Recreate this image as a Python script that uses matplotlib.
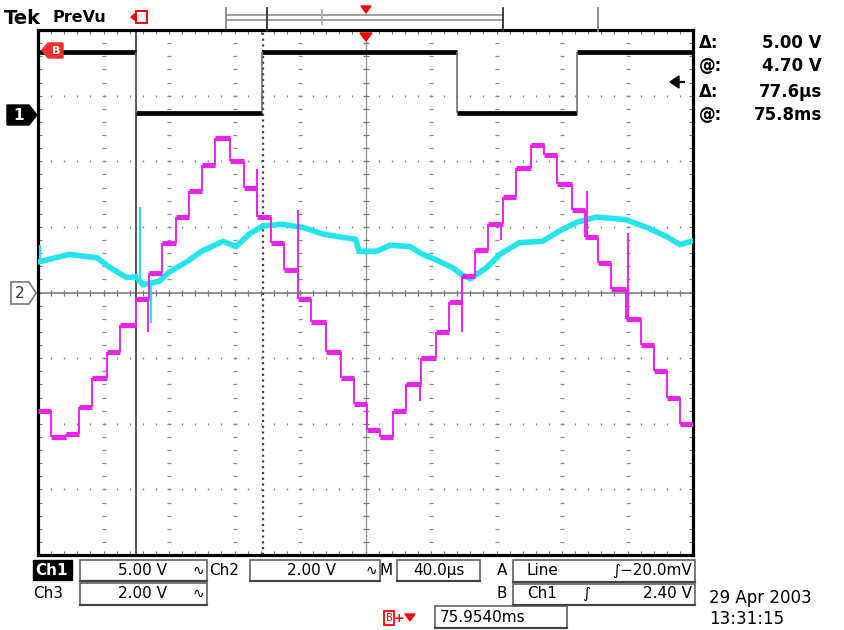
"""
Tek PreVu scope screen: Ch1 gate signal, Ch2 and Ch3 analogue traces
Run: python plot.py
"""

import matplotlib.pyplot as plt
from matplotlib.patches import Rectangle, Polygon
import numpy as np

# ---- values (time in us from trigger, volts) ----
ch1_edges_us = [-200, -140.4, -63, 56, 129, 200]
ch1_levels_v = [4.7, 0.0, 4.7, 0.0, 4.7]

ch3_edges_us = [-200, -192, -183, -175, -167, -158, -150, -140, -132, -124,
                -116, -108, -100, -92, -83, -74, -66, -58, -50, -41,
                -33, -24, -15, -7, 1, 9, 17, 25, 34, 43,
                51, 59, 67, 75, 84, 92, 101, 109, 117, 126,
                134, 142, 150, 159, 168, 176, 184, 192, 200]
ch3_levels_v = [-3.6, -4.4, -4.3, -3.5, -2.6, -1.8, -1.0, -0.2, 0.6, 1.5,
                2.3, 3.1, 3.9, 4.7, 4.0, 3.2, 2.3, 1.5, 0.7, -0.2,
                -0.9, -1.8, -2.6, -3.4, -4.2, -4.4, -3.6, -2.8, -2.0, -1.2,
                -0.3, 0.5, 1.3, 2.1, 2.9, 3.8, 4.5, 4.2, 3.3, 2.5,
                1.7, 0.9, 0.1, -0.8, -1.6, -2.4, -3.2, -4.0]
ch3_spike_us = [-133, -66, -41, 33, 59, 83, 135, 160]
ch3_spike_v = [-1.2, 3.76, 2.5, -3.3, -1.2, 1.6, 3.1, 1.8]

ch2_t_us = [-199, -181, -164, -156, -146, -140, -136, -126, -120, -109,
            -100, -87, -79, -71, -63, -51, -38, -26, -14, -6,
            -4, 7, 15, 27, 35, 43, 53, 59, 64, 74,
            82, 94, 108, 118, 129, 141, 159, 172, 184, 192, 199]
ch2_v = [0.94, 1.16, 1.06, 0.76, 0.46, 0.48, 0.24, 0.34, 0.62, 0.94,
         1.26, 1.56, 1.40, 1.78, 2.02, 2.08, 1.98, 1.78, 1.68, 1.62,
         1.26, 1.26, 1.44, 1.40, 1.16, 1.00, 0.76, 0.54, 0.42, 0.76,
         1.16, 1.52, 1.56, 1.86, 2.14, 2.30, 2.22, 1.98, 1.70, 1.46, 1.56]
ch2_spike_us = [-199, -138, -131]
ch2_spike_v = [1.46, 2.6, -0.92]

cursor_us = [-140.4, -62.8]

# scope settings
US_PER_DIV = 40.0
CH1_V_DIV, CH2_V_DIV, CH3_V_DIV = 5.0, 2.0, 2.0
CH1_POS = 2.73          # ch1 ground marker, divisions above centre

MAGENTA = "#ee22ee"
CYAN = "#22e5ee"
GRID = "#8a8a8a"

fig = plt.figure(figsize=(8.44, 6.3), dpi=100)
fig.patch.set_facecolor("white")

# graticule: 10 x 8 divisions
ax = fig.add_axes([38 / 844, 75 / 630, 655 / 844, 525 / 630])
ax.set_xlim(-5 * US_PER_DIV, 5 * US_PER_DIV)
ax.set_ylim(-4, 4)
ax.set_facecolor("white")
for s in ax.spines.values():
    s.set_linewidth(2.3)
    s.set_color("black")
ax.set_xticks(np.arange(-200, 201, 8))
ax.set_yticks(np.arange(-4, 4.01, 0.2))
ax.tick_params(direction="in", length=3, width=0.8, color="#777",
               top=True, right=True, labelbottom=False, labelleft=False)

# dotted division lines
minor_x = np.arange(-200, 200.1, 8)
minor_y = np.arange(-4, 4.01, 0.2)
for gx in np.arange(-160, 161, 40):
    if gx == 0:
        continue
    ax.scatter(np.full_like(minor_y, gx), minor_y, marker="_", s=6,
               lw=0.9, color=GRID, zorder=1)
for gy in range(-3, 4):
    if gy == 0:
        continue
    ax.scatter(minor_x, np.full_like(minor_x, gy), marker="|", s=4,
               lw=0.9, color=GRID, zorder=1)

# centre cross with ticks
ax.axhline(0, color="#777", lw=1.1, zorder=1)
ax.axvline(0, color="#999", lw=1.0, zorder=1)
ax.scatter(minor_x, np.zeros_like(minor_x), marker="|", s=22, lw=0.9,
           color="#777", zorder=1)
ax.scatter(np.zeros_like(minor_y), minor_y, marker="_", s=22, lw=0.9,
           color="#777", zorder=1)

# time cursors
ax.axvline(cursor_us[0], color="#555", lw=1.4, zorder=2)
ax.axvline(cursor_us[1], color="#444", lw=1.6, ls=(0, (1, 1.6)), zorder=2)

# Ch1 square wave
e1 = np.array(ch1_edges_us)
l1 = np.array(ch1_levels_v) / CH1_V_DIV + CH1_POS
ax.hlines(l1, e1[:-1], e1[1:], color="black", lw=3.4, zorder=3)
ax.vlines(e1[1:-1], l1[:-1], l1[1:], color="#666", lw=1.1, zorder=3)

# Ch2 trace
t2 = np.array(ch2_t_us)
y2 = np.array(ch2_v) / CH2_V_DIV
ax.plot(t2, y2, color=CYAN, lw=4.0, solid_joinstyle="miter", zorder=4)
s2 = np.array(ch2_spike_us)
ax.vlines(s2, np.interp(s2, t2, y2), np.array(ch2_spike_v) / CH2_V_DIV,
          color=CYAN, lw=1.5, zorder=4)

# Ch3 stepped trace
e3 = np.array(ch3_edges_us)
l3 = np.array(ch3_levels_v) / CH3_V_DIV
ax.hlines(l3, e3[:-1], e3[1:], color=MAGENTA, lw=3.6, zorder=5)
ax.vlines(e3[1:-1], l3[:-1], l3[1:], color=MAGENTA, lw=1.4, zorder=5)
s3 = np.array(ch3_spike_us)
base3 = l3[np.clip(np.searchsorted(e3, s3, side="right") - 1, 0, len(l3) - 1)]
ax.vlines(s3, base3, np.array(ch3_spike_v) / CH3_V_DIV,
          color=MAGENTA, lw=1.4, zorder=5)

# ---- screen furniture in pixel coordinates ----
ov = fig.add_axes([0, 0, 1, 1], zorder=5)
ov.set_xlim(0, 844)
ov.set_ylim(630, 0)
ov.axis("off")
ov.patch.set_alpha(0)

FONT = "DejaVu Sans"

ov.text(4, 18, "Tek", fontsize=14, fontweight="bold", va="center",
        family=FONT)
ov.text(52, 17, "PreVu", fontsize=11.5, fontweight="bold", va="center",
        family=FONT)
ov.add_patch(Rectangle((136, 11), 11, 12, fc="white", ec="red", lw=1.4))
ov.add_patch(Polygon([[131, 17], [136, 13], [136, 21]], color="red"))

# record view bar
ov.plot([226, 503], [15, 15], color="#9a9a9a", lw=1.3)
ov.plot([226, 503], [20, 20], color="#9a9a9a", lw=1.3)
for bx, y0, y1, c in [(226, 8, 28, "#888"), (267, 8, 31, "#333"),
                      (322, 10, 24, "#aaa"), (503, 8, 31, "#333"),
                      (598, 8, 31, "#888")]:
    ov.plot([bx, bx], [y0, y1], color=c, lw=1.3)
ov.plot([0, 693], [31, 31], alpha=0)
ov.add_patch(Polygon([[361, 6], [371, 6], [366, 13]], color="red"))
ov.add_patch(Polygon([[360, 33], [372, 33], [366, 41]], color="red"))

# channel markers
ov.add_patch(Polygon([[42, 50], [48, 43], [63, 43], [63, 58], [48, 58]],
                     color="#f03030"))
ov.text(56, 50.5, "B", fontsize=8, color="white", ha="center", va="center",
        fontweight="bold", family=FONT)
ov.add_patch(Polygon([[7, 105], [29, 105], [37, 115], [29, 125], [7, 125]],
                     color="black"))
ov.text(19, 115.5, "1", fontsize=11, color="white", ha="center",
        va="center", fontweight="bold", family=FONT)
ov.add_patch(Polygon([[11, 282], [29, 282], [36, 293], [29, 304], [11, 304]],
                     fc="white", ec="#777", lw=1.2))
ov.text(20, 293.5, "2", fontsize=11, color="#333", ha="center",
        va="center", family=FONT)
ov.add_patch(Polygon([[670, 82], [679, 76], [679, 88]], color="black"))
ov.plot([678, 684], [82, 82], color="black", lw=1.5)

# cursor readouts
readouts = [("\u0394:", "5.00 V", 43), ("@:", "4.70 V", 66),
            ("\u0394:", "77.6\u00b5s", 92), ("@:", "75.8ms", 115)]
for lab, val, yy in readouts:
    ov.text(699, yy, lab, fontsize=12, fontweight="bold", va="center",
            family=FONT)
    ov.text(822, yy, val, fontsize=12, fontweight="bold", va="center",
            ha="right", family=FONT)

# bottom status line
def box(x0, y0, x1, y1):
    ov.add_patch(Rectangle((x0, y0), x1 - x0, y1 - y0, fc="none",
                           ec="#555", lw=1.1))
    ov.plot([x0, x1], [y1, y1], color="#444", lw=1.6)

ov.add_patch(Rectangle((33, 560), 39, 20, color="black"))
ov.text(52, 570.5, "Ch1", fontsize=11, color="white", ha="center",
        va="center", fontweight="bold", family=FONT)
box(80, 560, 207, 581)
ov.text(167, 570.5, "5.00 V", fontsize=11, ha="right", va="center",
        family=FONT)
ov.text(198, 570.5, "\u223f", fontsize=10, ha="center", va="center",
        family=FONT)
ov.text(209, 570.5, "Ch2", fontsize=11, va="center", family=FONT)
box(250, 560, 380, 581)
ov.text(336, 570.5, "2.00 V", fontsize=11, ha="right", va="center",
        family=FONT)
ov.text(371, 570.5, "\u223f", fontsize=10, ha="center", va="center",
        family=FONT)
ov.text(386, 570.5, "M", fontsize=11, ha="center", va="center",
        family=FONT)
box(397, 560, 480, 581)
ov.text(439, 570.5, "40.0\u00b5s", fontsize=11, ha="center", va="center",
        family=FONT)
ov.text(502, 570.5, "A", fontsize=11, ha="center", va="center",
        family=FONT)
box(513, 560, 695, 582)
ov.text(527, 570.5, "Line", fontsize=11, va="center", family=FONT)
ov.text(692, 570.5, "\u222b\u221220.0mV", fontsize=11, ha="right",
        va="center", family=FONT)

ov.text(33, 593.5, "Ch3", fontsize=11, va="center", family=FONT)
box(80, 583, 207, 605)
ov.text(167, 593.5, "2.00 V", fontsize=11, ha="right", va="center",
        family=FONT)
ov.text(198, 593.5, "\u223f", fontsize=10, ha="center", va="center",
        family=FONT)
ov.text(502, 593.5, "B", fontsize=11, ha="center", va="center",
        family=FONT)
box(513, 584, 695, 605)
ov.text(527, 593.5, "Ch1", fontsize=11, va="center", family=FONT)
ov.text(586, 593.5, "\u222b", fontsize=11, ha="center", va="center",
        family=FONT)
ov.text(692, 593.5, "2.40 V", fontsize=11, ha="right", va="center",
        family=FONT)

ov.add_patch(Rectangle((384, 611), 10, 14, fc="white", ec="red", lw=1.3))
ov.text(389, 618, "B", fontsize=7, color="red", ha="center", va="center",
        family=FONT)
ov.text(399, 618, "+", fontsize=9, color="red", ha="center", va="center",
        fontweight="bold", family=FONT)
ov.add_patch(Polygon([[405, 614], [415, 614], [410, 621]], color="red"))
box(435, 606, 567, 628)
ov.text(440, 617.5, "75.9540ms", fontsize=11, va="center", family=FONT)

ov.text(709, 598, "29 Apr 2003", fontsize=12, va="center", family=FONT)
ov.text(709, 619, "13:31:15", fontsize=12, va="center", family=FONT)

plt.savefig("out.png", dpi=100, facecolor="white")
